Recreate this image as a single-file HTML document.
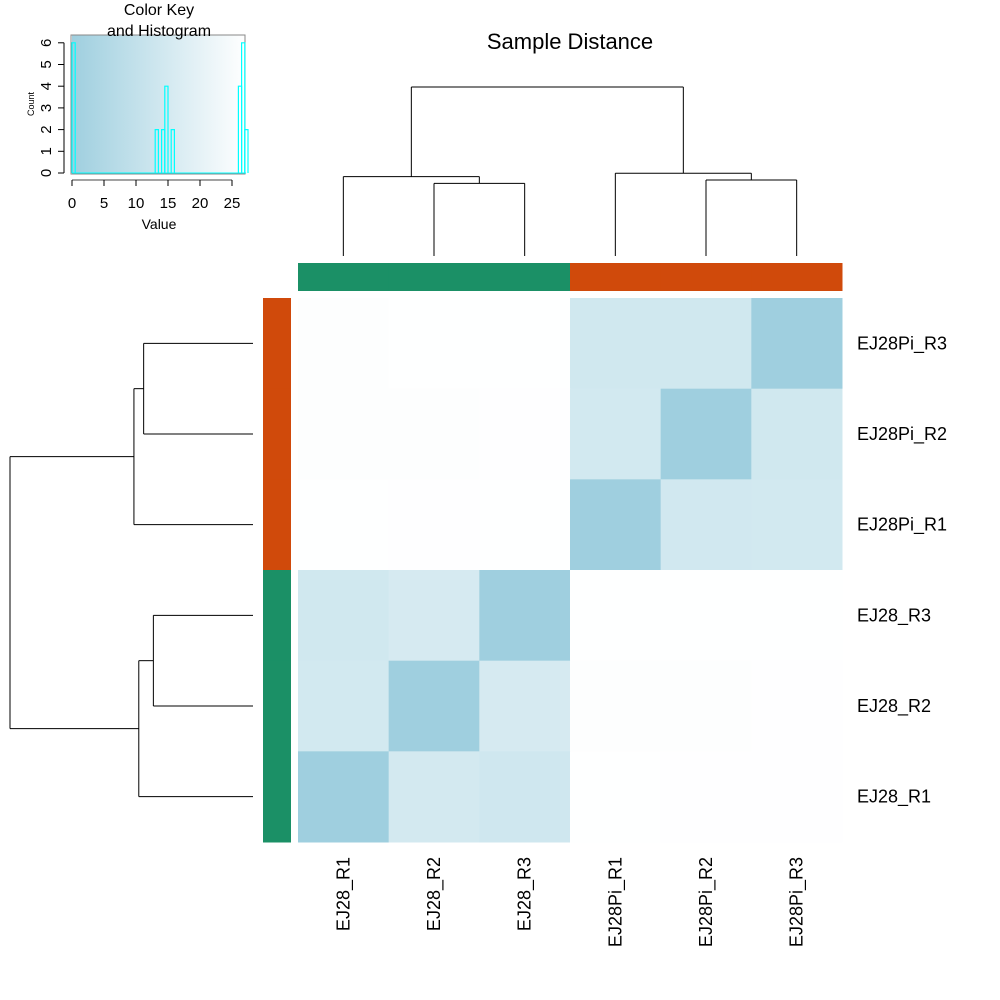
<!DOCTYPE html>
<html><head><meta charset="utf-8"><style>
html,body{margin:0;padding:0;background:#fff;}
svg{display:block;font-family:"Liberation Sans",Arial,sans-serif;}
</style></head><body>
<svg id="c" width="1000" height="1000" viewBox="0 0 1000 1000"></svg>
<script>
const colLabels=["EJ28_R1","EJ28_R2","EJ28_R3","EJ28Pi_R1","EJ28Pi_R2","EJ28Pi_R3"];
const rowLabels=["EJ28Pi_R3","EJ28Pi_R2","EJ28Pi_R1","EJ28_R3","EJ28_R2","EJ28_R1"];
const row0=[26.5,27,27,14,14,0];
const row1=[26.6,26.7,26.8,14.5,0,14];
const row2=[27,26.8,27,0,14.3,14.5];
const row3=[14,15.5,0,27,27,27];
const row4=[14.5,0,15.5,26.7,26.7,26.8];
const row5=[0,14.8,13.5,27,26.8,26.9];
const colGroups=["EJ28","EJ28","EJ28","EJ28Pi","EJ28Pi","EJ28Pi"];
const rowGroups=["EJ28Pi","EJ28Pi","EJ28Pi","EJ28","EJ28","EJ28"];
const histBinStart=[0,13,13.5,14,14.5,15,15.5,16,26,26.5,27];
const histCounts=[6,2,0,2,4,0,2,0,4,6,2];
const histBinWidth=0.5;
const keyTicks=[0,5,10,15,20,25];
const countTicks=[0,1,2,3,4,5,6];
const colMergeH=[0.43,0.47,0.45,0.49,1.0];
const rowMergeH=[0.45,0.49,0.41,0.47,1.0];

const NS="http://www.w3.org/2000/svg";
const svg=document.getElementById('c');
function el(t,a,p){const e=document.createElementNS(NS,t);for(const k in a)e.setAttribute(k,a[k]);(p||svg).appendChild(e);return e;}
const vmax=27.2;
function col(v){const f=Math.max(0,Math.min(1,v/vmax));const a=[159,207,223];return `rgb(${Math.round(a[0]+(255-a[0])*f)},${Math.round(a[1]+(255-a[1])*f)},${Math.round(a[2]+(255-a[2])*f)})`;}
const grpCol={EJ28:"#1b9066",EJ28Pi:"#d04a0b"};
const X0=298,Y0=298,S=544/6;
const cx=i=>X0+S*(i+0.5), cy=i=>Y0+S*(i+0.5);
const rows=[row0,row1,row2,row3,row4,row5];
const g=el('g',{});


rows.forEach((r,ri)=>r.forEach((v,ci)=>{
  const rc=el('rect',{x:X0+S*ci,y:Y0+S*ri,width:S+0.5,height:S+0.5,fill:col(v)},g);
  
  
}));
colGroups.forEach((gr,i)=>{const r=el('rect',{x:X0+S*i,y:263,width:S+0.5,height:28,fill:grpCol[gr]});
  
  });
rowGroups.forEach((gr,i)=>{const r=el('rect',{x:263,y:Y0+S*i,width:28,height:S+0.5,fill:grpCol[gr]});
  
  });
colLabels.forEach((l,i)=>{const t=el('text',{x:0,y:0,transform:`translate(${cx(i)+6},857) rotate(-90)`,'text-anchor':'end','font-size':18},null);t.textContent=l;
  
  });
rowLabels.forEach((l,i)=>{const t=el('text',{x:857,y:cy(i)+6,'font-size':18});t.textContent=l;
  
  });
const tt=el('text',{x:570,y:49,'text-anchor':'middle','font-size':22});tt.textContent="Sample Distance";


const ln=(x1,y1,x2,y2,p)=>el('line',{x1,y1,x2,y2,stroke:'#000','stroke-width':1},p);
const cd=el('g',{});


const tH=h=>256-h*(256-87);
function uTop(xa,ha,xb,hb,h,p){ln(xa,tH(ha),xa,tH(h),p);ln(xb,tH(hb),xb,tH(h),p);ln(xa,tH(h),xb,tH(h),p);return (xa+xb)/2;}
let a=uTop(cx(1),0,cx(2),0,colMergeH[0],cd);
let L=uTop(cx(0),0,a,colMergeH[0],colMergeH[1],cd);
let b=uTop(cx(4),0,cx(5),0,colMergeH[2],cd);
let R=uTop(cx(3),0,b,colMergeH[2],colMergeH[3],cd);
uTop(L,colMergeH[1],R,colMergeH[3],colMergeH[4],cd);
const rd=el('g',{});


const lH=h=>253-h*(253-10);
function uL(ya,ha,yb,hb,h,p){ln(lH(ha),ya,lH(h),ya,p);ln(lH(hb),yb,lH(h),yb,p);ln(lH(h),ya,lH(h),yb,p);return (ya+yb)/2;}
let c=uL(cy(0),0,cy(1),0,rowMergeH[0],rd);
let T=uL(c,rowMergeH[0],cy(2),0,rowMergeH[1],rd);
let d=uL(cy(3),0,cy(4),0,rowMergeH[2],rd);
let B=uL(d,rowMergeH[2],cy(5),0,rowMergeH[3],rd);
uL(T,rowMergeH[1],B,rowMergeH[3],rowMergeH[4],rd);
// color key
const key=el('g',{});


const kx=v=>72+v*6.4, ky=n=>173-n*21.7;
const defs=el('defs',{});
const lg=el('linearGradient',{id:'kg',x1:0,x2:1,y1:0,y2:0},defs);
el('stop',{offset:0,'stop-color':col(0)},lg);el('stop',{offset:1,'stop-color':col(vmax)},lg);
el('rect',{x:72,y:35,width:kx(vmax)-72,height:138,fill:'url(#kg)'},key);
el('rect',{x:71,y:35,width:174,height:139,fill:'none',stroke:'#888','stroke-width':1},key);
histBinStart.forEach((s,i)=>{
  const n=histCounts[i]; if(!n) return;
  const e=s+histBinWidth;
  el('polyline',{points:`${kx(s)},${ky(0)} ${kx(s)},${ky(n)} ${kx(e)},${ky(n)} ${kx(e)},${ky(0)}`,fill:'none',stroke:'#00ffff','stroke-width':1.2},key);
});
const base=ln(kx(0),ky(0),kx(27.2),ky(0),key);base.setAttribute('stroke','#00ffff');
ln(72,180,kx(25),180,key).setAttribute('stroke','#444');
keyTicks.forEach(v=>{ln(kx(v),180,kx(v),186,key);const t=el('text',{x:kx(v),y:208,'text-anchor':'middle','font-size':15},key);t.textContent=v;});
ln(64,ky(0),64,ky(6),key);
countTicks.forEach(n=>{ln(58,ky(n),64,ky(n),key);const t=el('text',{x:0,y:0,transform:`translate(51,${ky(n)}) rotate(-90)`,'text-anchor':'middle','font-size':15},key);t.textContent=n;});
const kt1=el('text',{x:159,y:15,'text-anchor':'middle','font-size':16},key);kt1.textContent="Color Key";
const kt2=el('text',{x:159,y:36,'text-anchor':'middle','font-size':16},key);kt2.textContent="and Histogram";
const kv=el('text',{x:159,y:229,'text-anchor':'middle','font-size':14},key);kv.textContent="Value";
const kc=el('text',{x:0,y:0,transform:'translate(34,104) rotate(-90)','text-anchor':'middle','font-size':9},key);kc.textContent="Count";
</script>
</body></html>
